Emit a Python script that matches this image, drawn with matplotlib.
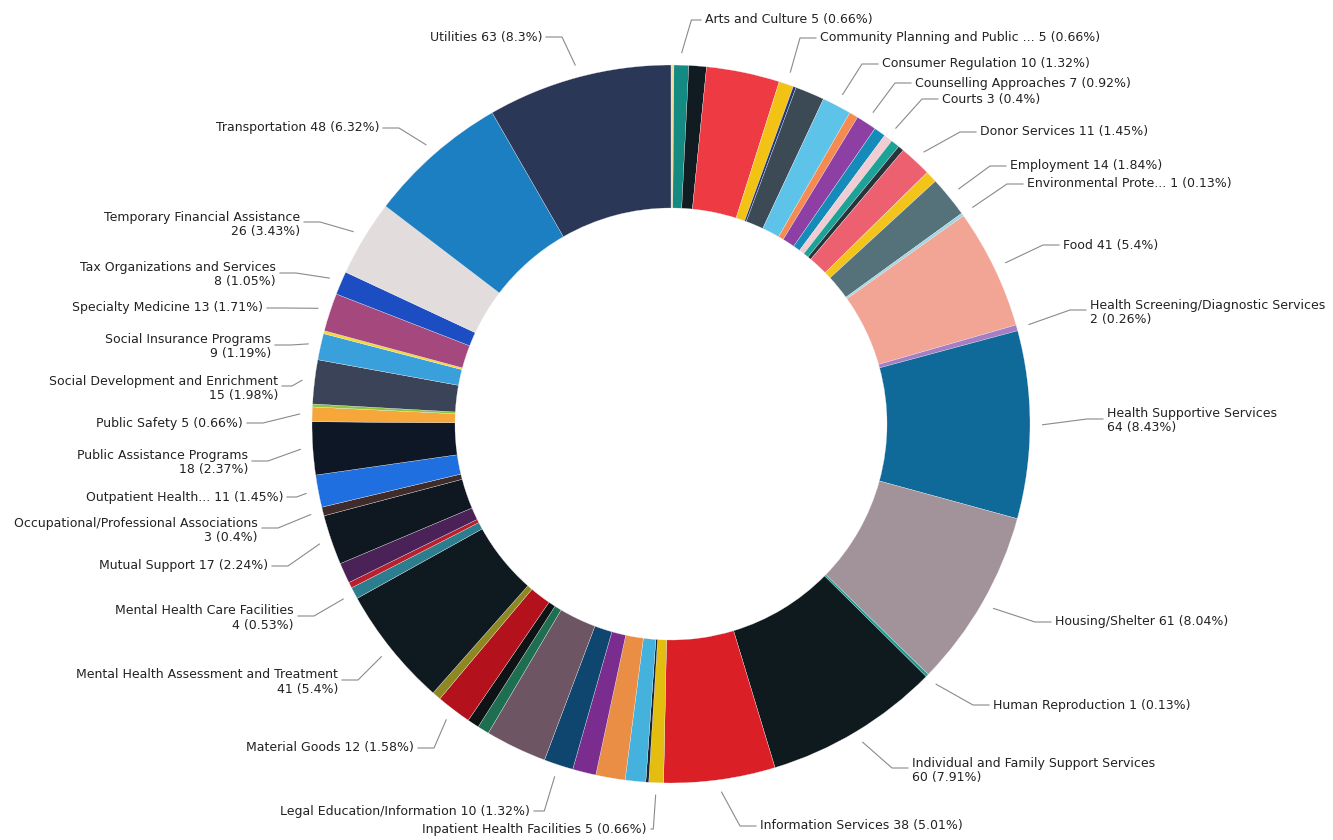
import matplotlib
matplotlib.use("Agg")
import matplotlib.pyplot as plt
from matplotlib import font_manager
import numpy as np

W, H = 1333, 840

# slices in clockwise order from 12 o'clock; None = slice without a label
categories = [
    None, "Arts and Culture", None, None, "Community Planning and Public ...",
    None, None, "Consumer Regulation", None, "Counselling Approaches",
    None, "Courts", None, None, "Donor Services",
    None, "Employment", "Environmental Prote...", "Food",
    "Health Screening/Diagnostic Services", "Health Supportive Services",
    "Housing/Shelter", "Human Reproduction", "Individual and Family Support Services",
    "Information Services", "Inpatient Health Facilities", None, None, None, None,
    "Legal Education/Information", None, None, None, "Material Goods", None,
    "Mental Health Assessment and Treatment", "Mental Health Care Facilities",
    None, None, "Mutual Support", "Occupational/Professional Associations",
    "Outpatient Health...", "Public Assistance Programs", "Public Safety", None,
    "Social Development and Enrichment", "Social Insurance Programs", None,
    "Specialty Medicine", "Tax Organizations and Services",
    "Temporary Financial Assistance", "Transportation", "Utilities",
]
counts = [
    1, 5, 6, 25, 5,
    1, 10, 10, 3, 7,
    4, 3, 3, 2, 11,
    4, 14, 1, 41,
    2, 64,
    61, 1, 60,
    38, 5, 1, 7, 10, 8,
    10, 21, 4, 4, 12, 3,
    41, 4,
    2, 7, 17, 3,
    11, 18, 5, 1,
    15, 9, 1,
    13, 8,
    26, 48, 63,
]
colors = [
    "#F3D9A0", "#138A82", "#101B22", "#EE3B43", "#F2C214",
    "#253A74", "#3B4A55", "#5EC3E8", "#F58B50", "#8E3FA3",
    "#148BB8", "#F1CCD3", "#1CA296", "#27343B", "#EC6070",
    "#F3C41A", "#55717A", "#9BD6E4", "#F2A595",
    "#A77DC4", "#0F6A9A",
    "#A2939A", "#1A9A8C", "#0F1A1E",
    "#DA1F26", "#E3BE10", "#1A2530", "#45B2DD", "#EA8D45", "#7B2D8F",
    "#0E4670", "#6E5563", "#1E6F52", "#0E1416", "#B3121C", "#8D8820",
    "#0F1A20", "#2C7E8E",
    "#B8202E", "#4A2257", "#0F1820", "#3E2B2A",
    "#1F6FE0", "#0E1726", "#F7A73A", "#8CC63E",
    "#3A4357", "#3AA0DC", "#F4D638",
    "#A4487E", "#1D4DC3",
    "#E2DDDC", "#1B7FC2", "#2B3756",
]
assert len(categories) == len(counts) == len(colors)

two_line = {
    "Health Screening/Diagnostic Services", "Health Supportive Services",
    "Individual and Family Support Services", "Mental Health Assessment and Treatment",
    "Mental Health Care Facilities", "Occupational/Professional Associations",
    "Public Assistance Programs", "Social Development and Enrichment",
    "Social Insurance Programs", "Tax Organizations and Services",
    "Temporary Financial Assistance",
}

# label layout (pixels from top-left): x = text start (right side) / text end (left side)
label_pos = {
    "Arts and Culture": (705, 20),
    "Community Planning and Public ...": (820, 38),
    "Consumer Regulation": (882, 64),
    "Counselling Approaches": (915, 83),
    "Courts": (942, 99),
    "Donor Services": (980, 132),
    "Employment": (1010, 166),
    "Environmental Prote...": (1027, 184),
    "Food": (1063, 245),
    "Health Screening/Diagnostic Services": (1090, 310),
    "Health Supportive Services": (1107, 419),
    "Housing/Shelter": (1055, 622),
    "Human Reproduction": (993, 705),
    "Individual and Family Support Services": (912, 768),
    "Information Services": (760, 826),
    "Inpatient Health Facilities": (647, 829),
    "Legal Education/Information": (530, 811),
    "Material Goods": (414, 748),
    "Mental Health Assessment and Treatment": (338, 680),
    "Mental Health Care Facilities": (294, 616),
    "Mutual Support": (268, 566),
    "Occupational/Professional Associations": (258, 528),
    "Outpatient Health...": (283, 497),
    "Public Assistance Programs": (248, 461),
    "Public Safety": (243, 423),
    "Social Development and Enrichment": (278, 386),
    "Social Insurance Programs": (271, 345),
    "Specialty Medicine": (263, 308),
    "Tax Organizations and Services": (276, 273),
    "Temporary Financial Assistance": (300, 222),
    "Transportation": (379, 128),
    "Utilities": (542, 37),
}

CX, CY, R, RING = 671, 424, 359, 143

names = {f.name for f in font_manager.fontManager.ttflist}
if "Liberation Sans Narrow" in names:
    FONT, FSIZE = "Liberation Sans Narrow", 10.5
else:
    FONT, FSIZE = "DejaVu Sans", 9
plt.rcParams["font.family"] = [FONT, "DejaVu Sans"]

fig = plt.figure(figsize=(W / 100, H / 100), dpi=100)
ax = fig.add_axes([0, 0, 1, 1])

# y axis is inverted below, so startangle -90 is 12 o'clock and ccw in data = clockwise on screen
wedges, _ = ax.pie(counts, colors=colors, startangle=-90, counterclock=True,
                   radius=R, center=(CX, CY),
                   wedgeprops=dict(width=RING, edgecolor="#f4f4f4", linewidth=0.2))

total = sum(counts)
for w, name, v in zip(wedges, categories, counts):
    if name is None:
        continue
    pct = f"{round(v / total * 100, 2):g}"
    sep = "\n" if name in two_line else " "
    txt = f"{name}{sep}{v} ({pct}%)"
    tx, ty = label_pos[name]
    right = tx > CX
    mid = np.deg2rad((w.theta1 + w.theta2) / 2)
    px, py = CX + 1.035 * R * np.cos(mid), CY + 1.035 * R * np.sin(mid)
    ex2 = tx - 4 if right else tx + 4
    if right:
        ex = tx - 20 if px < tx - 26 else (px + ex2) / 2
    else:
        ex = tx + 20 if px > tx + 26 else (px + ex2) / 2
    ax.plot([px, ex, ex2], [py, ty, ty], color="#8a8a8a", lw=0.8)
    ax.text(tx, ty + (2 if name in two_line else 0), txt,
            ha="left" if right else "right", va="center",
            multialignment="left" if right else "right",
            fontsize=FSIZE, color="#222222", linespacing=1.1)

ax.set_xlim(0, W)
ax.set_ylim(H, 0)
ax.set_aspect("equal")
ax.axis("off")

fig.savefig("out.png", dpi=100, facecolor="white")
